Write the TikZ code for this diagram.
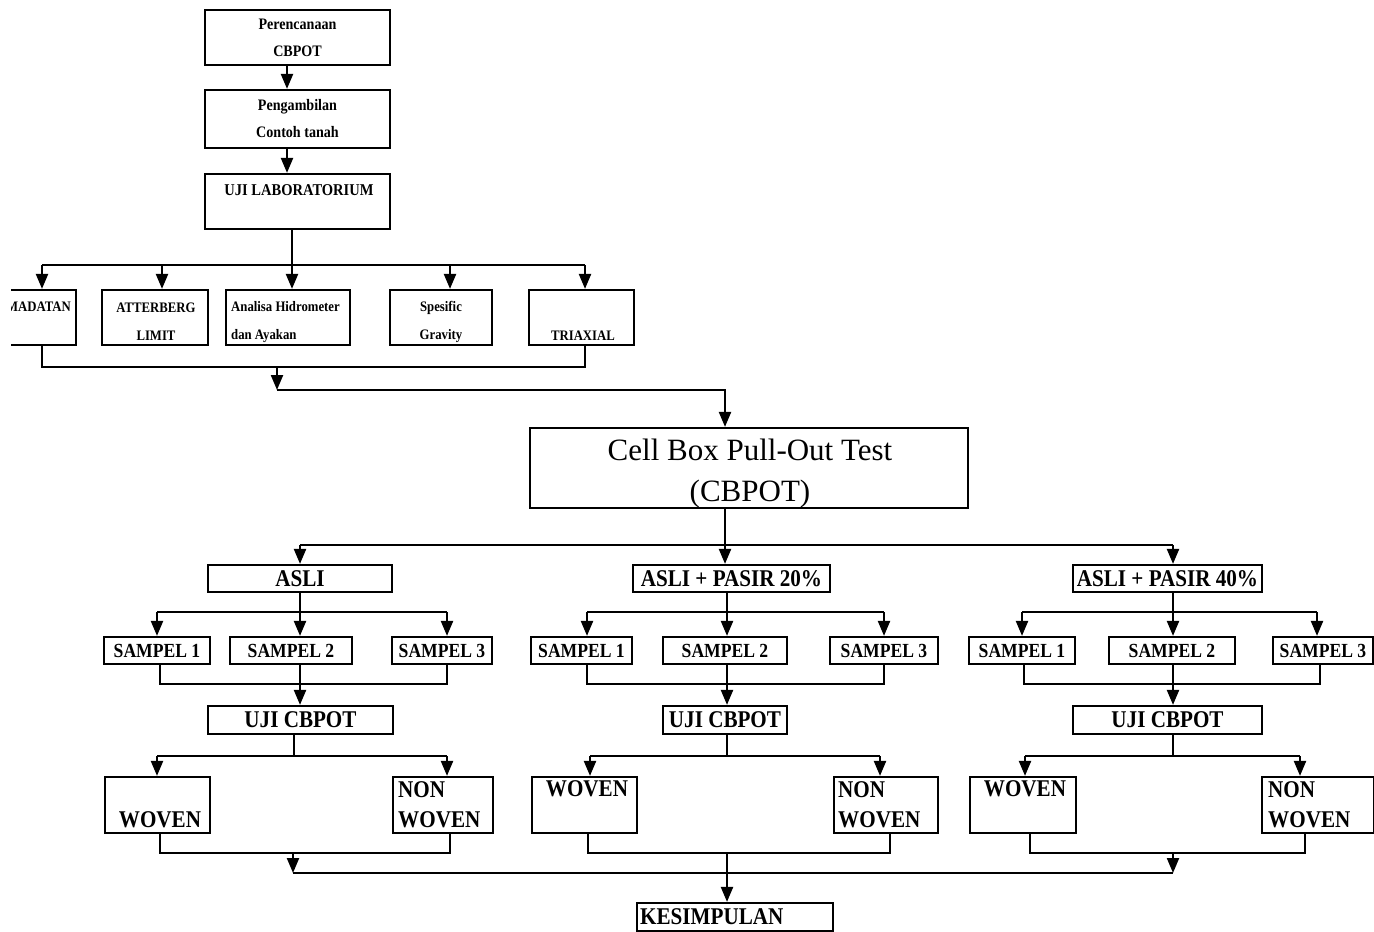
\documentclass[tikz,border=0pt]{standalone}
\usepackage{fontspec}
\setmainfont{Liberation Serif}[FakeStretch=0.88]
\newfontfamily\cellfont{Liberation Serif}
\usetikzlibrary{arrows.meta}
\begin{document}
\begin{tikzpicture}[x=1pt,y=-1pt,
  box/.style={draw, line width=2.2pt, inner sep=0pt},
  ln/.style={line width=2.2pt},
  arr/.style={line width=2.2pt,-{Triangle[length=15pt,width=12pt]}},
  topfont/.style={font=\fontsize{16}{27}\selectfont\bfseries},
  labfont/.style={font=\fontsize{14.5}{28}\selectfont\bfseries},
  midfont/.style={font=\fontsize{24}{30}\selectfont\bfseries},
  sampfont/.style={font=\fontsize{20}{24}\selectfont\bfseries},
  txt/.style={inner sep=0pt}
]
\useasboundingbox (0,0) rectangle (1374,932);
\fill[white] (0,0) rectangle (1374,932);
\clip (0,0) rectangle (1374,932);

% ---------- top chain ----------
\node[box,topfont,align=center,minimum width=185pt,minimum height=55pt] (b1) at (297.5,37.5) {Perencanaan\\CBPOT};
\node[box,topfont,align=center,minimum width=185pt,minimum height=58pt] (b2) at (297.5,119) {Pengambilan\\Contoh tanah};
\node[box,minimum width=185pt,minimum height=55pt] (b3) at (297.5,201.5) {};
\node[txt,font=\fontsize{16.5}{20}\selectfont\bfseries] (t3) at (299,190) {UJI LABORATORIUM};

\coordinate (u1) at (287,0);
\draw[arr] (u1 |- b1.south) -- (u1 |- b2.north);
\draw[arr] (u1 |- b2.south) -- (u1 |- b3.north);

% ---------- lab tests ----------
\begin{scope}
\clip (11,280) rectangle (100,355);
\node[box,minimum width=106pt,minimum height=55pt] (pem) at (23,317.5) {};
\node[txt,labfont,anchor=east] (tpem) at (71,307) {PEMADATAN};
\end{scope}
\node[box,minimum width=106pt,minimum height=55pt] (att) at (155,317.5) {};
\node[txt,labfont,align=center] (tatt) at (156,322) {ATTERBERG\\LIMIT};
\node[box,minimum width=124pt,minimum height=55pt] (ana) at (288,317.5) {};
\node[txt,labfont,align=left,anchor=west] (tana) at (231,322) {Analisa Hidrometer\\dan Ayakan};
\node[box,minimum width=102pt,minimum height=55pt] (spg) at (441,317.5) {};
\node[txt,labfont,align=center] (tspg) at (441,322) {Spesific\\Gravity};
\node[box,minimum width=105pt,minimum height=55pt] (tri) at (581.5,317.5) {};
\node[txt,labfont] (ttri) at (583,336) {TRIAXIAL};

\coordinate (j1) at (42,265);
\coordinate (j2) at (162,265);
\coordinate (j3) at (292,265);
\coordinate (j4) at (450,265);
\coordinate (j5) at (585,265);
\draw[ln] (j3 |- b3.south) -- (j3);
\draw[ln] (j1) -- (j5);
\draw[arr] (j1) -- (j1 |- pem.north);
\draw[arr] (j2) -- (j2 |- att.north);
\draw[arr] (j3) -- (j3 |- ana.north);
\draw[arr] (j4) -- (j4 |- spg.north);
\draw[arr] (j5) -- (j5 |- tri.north);

\coordinate (k1) at (42,367);
\coordinate (k2) at (277,367);
\coordinate (k5) at (585,367);
\coordinate (m1) at (277,390);
\coordinate (m2) at (725,390);
\draw[ln] (k1 |- pem.south) -- (k1) -- (k5) -- (k5 |- tri.south);

% ---------- CBPOT ----------
\node[box,minimum width=438pt,minimum height=80pt] (cell) at (749,468) {};
\node[txt,font=\cellfont\fontsize{31}{41}\selectfont,align=center] (tcell) at (750,474) {Cell Box Pull-Out Test\\(CBPOT)};
\draw[arr] (k2) -- (m1);
\draw[arr] (m1) -- (m2) -- (m2 |- cell.north);

\node[box,midfont,minimum width=184pt,minimum height=27pt] (asli) at (300,578.5) {ASLI};
\node[box,midfont,minimum width=197pt,minimum height=27pt] (p20) at (731.5,578.5) {ASLI + PASIR 20\%};
\node[box,midfont,minimum width=189pt,minimum height=27pt] (p40) at (1167.5,578.5) {ASLI + PASIR 40\%};

\coordinate (n1) at (300,545);
\coordinate (n2) at (725,545);
\coordinate (n3) at (1173,545);
\draw[ln] (n2 |- cell.south) -- (n2);
\draw[ln] (n1) -- (n3);
\draw[arr] (n1) -- (n1 |- asli.north);
\draw[arr] (n2) -- (n2 |- p20.north);
\draw[arr] (n3) -- (n3 |- p40.north);

% ---------- group A : ASLI ----------
\node[box,sampfont,minimum width=106pt,minimum height=27pt] (as1) at (157,650.5) {SAMPEL 1};
\node[box,sampfont,minimum width=122pt,minimum height=27pt] (as2) at (291,650.5) {SAMPEL 2};
\node[box,sampfont,minimum width=100pt,minimum height=27pt] (as3) at (442,650.5) {SAMPEL 3};
\node[box,midfont,minimum width=185pt,minimum height=28pt] (auji) at (300.5,720) {UJI CBPOT};
\node[box,minimum width=105pt,minimum height=56pt] (aw) at (157.5,805) {};
\node[txt,midfont] (taw) at (160,820) {WOVEN};
\node[box,minimum width=100pt,minimum height=56pt] (anw) at (443,805) {};
\node[txt,midfont,align=left,anchor=north west] (tanw) at (398,781) {NON\\WOVEN};

\coordinate (aa1) at (157,612);
\coordinate (aa2) at (300,612);
\coordinate (aa3) at (447,612);
\draw[ln] (aa2 |- asli.south) -- (aa2);
\draw[ln] (aa1) -- (aa3);
\draw[arr] (aa1) -- (aa1 |- as1.north);
\draw[arr] (aa2) -- (aa2 |- as2.north);
\draw[arr] (aa3) -- (aa3 |- as3.north);
\coordinate (ac1) at (160,684);
\coordinate (ac2) at (300,684);
\coordinate (ac3) at (447,684);
\draw[ln] (ac1 |- as1.south) -- (ac1) -- (ac3) -- (ac3 |- as3.south);
\draw[arr] (ac2 |- as2.south) -- (ac2 |- auji.north);
\coordinate (ad1) at (157,756);
\coordinate (ad2) at (294,756);
\coordinate (ad3) at (447,756);
\draw[ln] (ad2 |- auji.south) -- (ad2);
\draw[ln] (ad1) -- (ad3);
\draw[arr] (ad1) -- (ad1 |- aw.north);
\draw[arr] (ad3) -- (ad3 |- anw.north);
\coordinate (ae1) at (160,853);
\coordinate (ae2) at (293,853);
\coordinate (ae3) at (450,853);
\draw[ln] (ae1 |- aw.south) -- (ae1) -- (ae3) -- (ae3 |- anw.south);

% ---------- group B : 20% ----------
\node[box,sampfont,minimum width=101pt,minimum height=27pt] (bs1) at (581.5,650.5) {SAMPEL 1};
\node[box,sampfont,minimum width=124pt,minimum height=27pt] (bs2) at (725,650.5) {SAMPEL 2};
\node[box,sampfont,minimum width=108pt,minimum height=27pt] (bs3) at (884,650.5) {SAMPEL 3};
\node[box,midfont,minimum width=124pt,minimum height=28pt] (buji) at (725,720) {UJI CBPOT};
\node[box,minimum width=105pt,minimum height=56pt] (bw) at (584.5,805) {};
\node[txt,midfont] (tbw) at (587,789) {WOVEN};
\node[box,minimum width=104pt,minimum height=56pt] (bnw) at (886,805) {};
\node[txt,midfont,align=left,anchor=north west] (tbnw) at (838,781) {NON\\WOVEN};

\coordinate (ba1) at (587,612);
\coordinate (ba2) at (727,612);
\coordinate (ba3) at (884,612);
\draw[ln] (ba2 |- p20.south) -- (ba2);
\draw[ln] (ba1) -- (ba3);
\draw[arr] (ba1) -- (ba1 |- bs1.north);
\draw[arr] (ba2) -- (ba2 |- bs2.north);
\draw[arr] (ba3) -- (ba3 |- bs3.north);
\coordinate (bc1) at (587,684);
\coordinate (bc2) at (727,684);
\coordinate (bc3) at (884,684);
\draw[ln] (bc1 |- bs1.south) -- (bc1) -- (bc3) -- (bc3 |- bs3.south);
\draw[arr] (bc2 |- bs2.south) -- (bc2 |- buji.north);
\coordinate (bd1) at (590,756);
\coordinate (bd2) at (727,756);
\coordinate (bd3) at (880,756);
\draw[ln] (bd2 |- buji.south) -- (bd2);
\draw[ln] (bd1) -- (bd3);
\draw[arr] (bd1) -- (bd1 |- bw.north);
\draw[arr] (bd3) -- (bd3 |- bnw.north);
\coordinate (be1) at (588,853);
\coordinate (be2) at (727,853);
\coordinate (be3) at (890,853);
\draw[ln] (be1 |- bw.south) -- (be1) -- (be3) -- (be3 |- bnw.south);

% ---------- group C : 40% ----------
\node[box,sampfont,minimum width=106pt,minimum height=27pt] (cs1) at (1022,650.5) {SAMPEL 1};
\node[box,sampfont,minimum width=126pt,minimum height=27pt] (cs2) at (1172,650.5) {SAMPEL 2};
\node[box,sampfont,minimum width=100pt,minimum height=27pt] (cs3) at (1323,650.5) {SAMPEL 3};
\node[box,midfont,minimum width=189pt,minimum height=28pt] (cuji) at (1167.5,720) {UJI CBPOT};
\node[box,minimum width=106pt,minimum height=56pt] (cw) at (1023,805) {};
\node[txt,midfont] (tcw) at (1025,789) {WOVEN};
\node[box,minimum width=112pt,minimum height=56pt] (cnw) at (1318,805) {};
\node[txt,midfont,align=left,anchor=north west] (tcnw) at (1268,781) {NON\\WOVEN};

\coordinate (ca1) at (1022,612);
\coordinate (ca2) at (1173,612);
\coordinate (ca3) at (1317,612);
\draw[ln] (ca2 |- p40.south) -- (ca2);
\draw[ln] (ca1) -- (ca3);
\draw[arr] (ca1) -- (ca1 |- cs1.north);
\draw[arr] (ca2) -- (ca2 |- cs2.north);
\draw[arr] (ca3) -- (ca3 |- cs3.north);
\coordinate (cc1) at (1024,684);
\coordinate (cc2) at (1173,684);
\coordinate (cc3) at (1320,684);
\draw[ln] (cc1 |- cs1.south) -- (cc1) -- (cc3) -- (cc3 |- cs3.south);
\draw[arr] (cc2 |- cs2.south) -- (cc2 |- cuji.north);
\coordinate (cd1) at (1025,756);
\coordinate (cd2) at (1173,756);
\coordinate (cd3) at (1300,756);
\draw[ln] (cd2 |- cuji.south) -- (cd2);
\draw[ln] (cd1) -- (cd3);
\draw[arr] (cd1) -- (cd1 |- cw.north);
\draw[arr] (cd3) -- (cd3 |- cnw.north);
\coordinate (ce1) at (1030,853);
\coordinate (ce2) at (1173,853);
\coordinate (ce3) at (1305,853);
\draw[ln] (ce1 |- cw.south) -- (ce1) -- (ce3) -- (ce3 |- cnw.south);

% ---------- conclusion ----------
\node[box,minimum width=196pt,minimum height=28pt] (kes) at (735,917) {};
\node[txt,midfont,anchor=west] (tkes) at (640,917) {KESIMPULAN};
\coordinate (f1) at (293,873);
\coordinate (f3) at (1173,873);
\draw[ln] (f1) -- (f3);
\draw[arr] (ae2) -- (f1);
\draw[arr] (ce2) -- (f3);
\draw[arr] (be2) -- (be2 |- kes.north);
\end{tikzpicture}
\end{document}
